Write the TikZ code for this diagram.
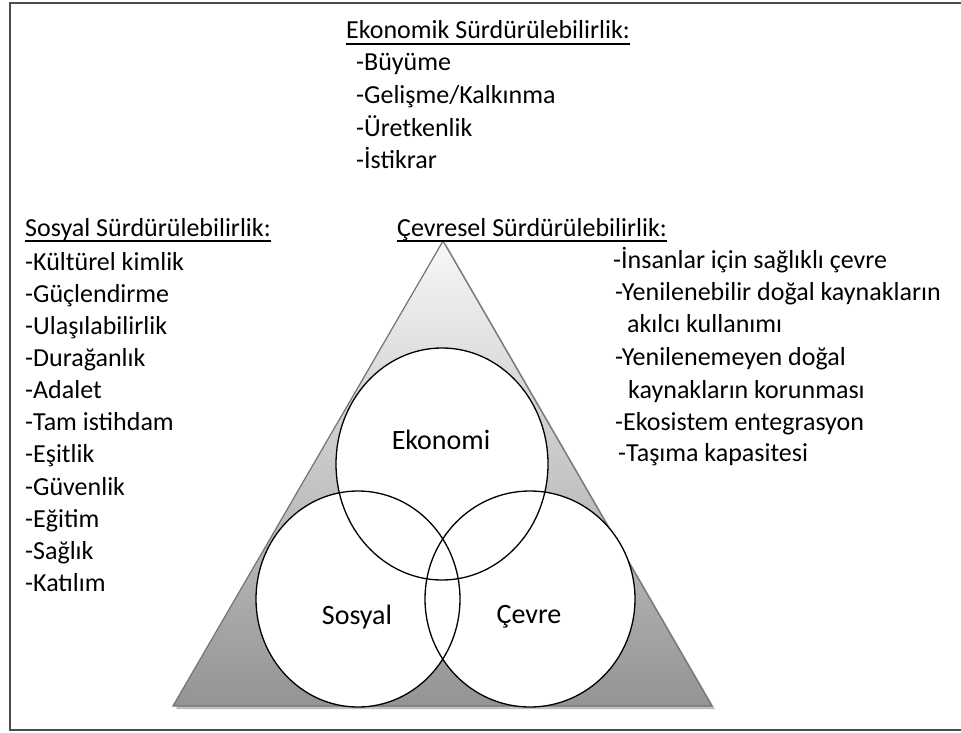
\documentclass[tikz,border=0pt]{standalone}
\usepackage{fontspec}
\setmainfont{Carlito}
\begin{document}
\begin{tikzpicture}[x=1pt,y=-1pt,
  txt/.style={anchor=base west, inner sep=0pt, font=\fontsize{26}{32}\selectfont},
  lbl/.style={anchor=center, inner sep=0pt, font=\fontsize{28}{34}\selectfont},
  ringfill/.style={fill=white},
  ring/.style={draw=black, line width=1.3pt},
  uline/.style={line width=1.2pt, draw=black}]
\useasboundingbox (0,0) rectangle (961,733);
% frame
\begin{scope}
\clip (0,0) rectangle (961,733);
\draw[line width=2pt, draw=black!70] (10,3) rectangle (980,730);
\end{scope}
% triangle shadow and gradient triangle
\fill[black!25] (176,709) -- (715,709) -- (446,244) -- cycle;
\shade[top color=white!97!black, bottom color=black!42, draw=black!55, line width=1.2pt]
  (443,241) -- (173,706) -- (712,706) -- cycle;
% circles
\fill[ringfill] (442,464) ellipse [x radius=106pt, y radius=116pt];
\fill[ringfill] (358,599) ellipse [x radius=102pt, y radius=108pt];
\fill[ringfill] (530,599) ellipse [x radius=105pt, y radius=108pt];
\draw[ring] (442,464) ellipse [x radius=106pt, y radius=116pt];
\draw[ring] (358,599) ellipse [x radius=102pt, y radius=108pt];
\draw[ring] (530,599) ellipse [x radius=105pt, y radius=108pt];
% circle labels
\node[lbl] (eko) at (441,440) {Ekonomi};
\node[lbl] (sos) at (357,617) {Sosyal};
\node[lbl] (cev) at (529,617) {Çevre};
% economic
\node[txt] (eh) at (346,39) {Ekonomik Sürdürülebilirlik:};
\draw[uline] ([yshift=-5pt]eh.base west) -- ([yshift=-5pt]eh.base east);
\node[txt] (e1) at (356,71) {-Büyüme};
\node[txt] (e2) at (356,104) {-Gelişme/Kalkınma};
\node[txt] (e3) at (356,136) {-Üretkenlik};
\node[txt] (e4) at (356,168) {-İstikrar};
% social
\node[txt] (sh) at (25,236) {Sosyal Sürdürülebilirlik:};
\draw[uline] ([yshift=-5pt]sh.base west) -- ([yshift=-5pt]sh.base east);
\node[txt] (s1) at (25,270) {-Kültürel kimlik};
\node[txt] (s2) at (25,302) {-Güçlendirme};
\node[txt] (s3) at (25,334) {-Ulaşılabilirlik};
\node[txt] (s4) at (25,366) {-Durağanlık};
\node[txt] (s5) at (25,398) {-Adalet};
\node[txt] (s6) at (25,430) {-Tam istihdam};
\node[txt] (s7) at (25,462) {-Eşitlik};
\node[txt] (s8) at (25,495) {-Güvenlik};
\node[txt] (s9) at (25,527) {-Eğitim};
\node[txt] (s10) at (25,559) {-Sağlık};
\node[txt] (s11) at (25,591) {-Katılım};
% environmental
\node[txt] (ch) at (397,236) {Çevresel Sürdürülebilirlik:};
\draw[uline] ([yshift=-5pt]ch.base west) -- ([yshift=-5pt]ch.base east);
\node[txt] (c1) at (613,268) {-İnsanlar için sağlıklı çevre};
\node[txt] (c2) at (615,300) {-Yenilenebilir doğal kaynakların};
\node[txt] (c3) at (627,332) {akılcı kullanımı};
\node[txt] (c4) at (615,365) {-Yenilenemeyen doğal};
\node[txt] (c5) at (628,398) {kaynakların korunması};
\node[txt] (c6) at (615,430) {-Ekosistem entegrasyon};
\node[txt] (c7) at (618,461) {-Taşıma kapasitesi};
\end{tikzpicture}
\end{document}
